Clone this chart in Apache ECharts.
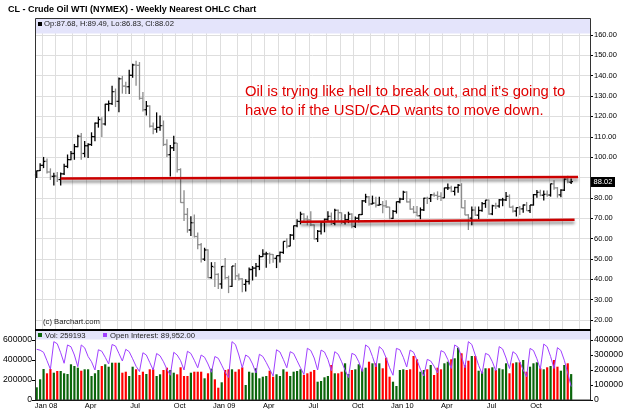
<!DOCTYPE html>
<html>
<head>
<meta charset="utf-8">
<title>CL - Crude Oil WTI (NYMEX) - Weekly Nearest OHLC Chart</title>
<script src="https://cdn.jsdelivr.net/npm/echarts@6/dist/echarts.min.js"></script>
<style>
  html, body { margin: 0; padding: 0; background: #fff; }
  #chart { width: 625px; height: 409px; }
</style>
</head>
<body>
<div id="chart"></div>
<script>
// weekly bars, dated by the Friday that ends the week
const firstWeek = '2007-12-21';
const weekCount = 162; // 157 bars + a little room on the right

// [open, high, low, close]
const ohlc = [
  // 2007
  [91.3, 93.5, 89.7, 93.3], [93.4, 97.0, 93.2, 96.0],
  // 2008
  [96.0, 100.1, 94.6, 97.9], [97.9, 99.3, 92.0, 92.7], [92.7, 94.5, 88.8, 90.6], [90.6, 92.3, 86.1, 90.7],
  [90.7, 92.7, 87.8, 89.0], [89.0, 92.4, 86.1, 91.8], [91.8, 96.7, 91.2, 95.5], [95.5, 101.3, 94.6, 98.8],
  [98.8, 103.0, 98.5, 101.8], [101.8, 106.5, 98.7, 105.2], [105.2, 111.0, 104.8, 110.2], [110.2, 111.8, 98.7, 101.8],
  [101.8, 107.9, 100.0, 105.6], [105.6, 106.8, 99.6, 106.2], [106.2, 112.2, 105.5, 110.1], [110.1, 117.0, 107.8, 116.7],
  [116.7, 119.9, 114.5, 118.5], [118.5, 119.6, 109.9, 116.3], [116.3, 126.2, 115.6, 126.0], [126.0, 127.8, 122.5, 126.3],
  [126.3, 135.1, 125.6, 132.2], [132.2, 133.7, 124.6, 127.4], [127.4, 139.1, 122.0, 138.5], [138.5, 139.9, 131.2, 134.9],
  [134.9, 137.0, 131.0, 134.6], [134.6, 142.9, 131.0, 140.2], [140.2, 145.9, 139.0, 145.3], [145.3, 147.3, 135.1, 145.1],
  [145.1, 146.7, 128.2, 128.9], [128.9, 132.0, 122.4, 123.3], [123.3, 127.6, 120.4, 125.1], [125.1, 125.5, 114.6, 115.2],
  [115.2, 117.0, 111.3, 113.8], [113.8, 122.0, 112.0, 114.6], [114.6, 120.4, 113.0, 115.5], [115.5, 118.0, 105.5, 106.2],
  [106.2, 108.8, 100.1, 101.2], [101.2, 106.0, 90.5, 104.6], [104.6, 110.5, 103.0, 106.9], [106.9, 107.0, 92.5, 93.9],
  [93.9, 94.5, 77.6, 77.7], [77.7, 83.7, 68.6, 71.9], [71.9, 75.0, 62.9, 64.2], [64.2, 71.0, 61.3, 67.8],
  [67.8, 71.8, 60.5, 61.0], [61.0, 63.0, 54.7, 57.0], [57.0, 57.8, 48.3, 49.9], [49.9, 55.5, 49.0, 54.4],
  [54.4, 54.7, 40.5, 40.8], [40.8, 48.4, 40.3, 46.3], [46.0, 48.5, 36.2, 42.4], [42.4, 43.0, 35.2, 37.7],
  // 2009
  [37.7, 46.5, 35.4, 46.3], [46.3, 50.5, 40.0, 40.8], [40.8, 41.8, 33.2, 36.5], [36.5, 46.5, 36.2, 46.5],
  [46.5, 48.0, 39.6, 41.7], [41.7, 42.8, 39.4, 40.2], [40.2, 40.5, 33.6, 37.5], [37.5, 40.0, 34.0, 38.9],
  [38.9, 45.8, 37.4, 44.8], [44.8, 46.5, 39.4, 45.5], [45.5, 48.0, 41.2, 46.3], [46.3, 52.0, 44.5, 51.1],
  [51.1, 54.7, 50.9, 52.4], [52.4, 53.5, 45.7, 52.5], [52.5, 53.1, 47.6, 52.2], [52.2, 52.4, 48.1, 50.3],
  [50.3, 51.7, 45.5, 51.6], [51.6, 53.6, 48.3, 53.2], [53.2, 58.6, 52.5, 58.6], [58.6, 60.1, 55.2, 56.3],
  [56.3, 62.3, 56.2, 61.7], [61.7, 66.4, 59.4, 66.3], [66.3, 69.5, 65.6, 68.4], [68.4, 73.2, 67.0, 72.0],
  [72.0, 72.5, 68.1, 69.6], [69.6, 71.3, 66.5, 69.2], [69.2, 73.4, 66.2, 66.7], [66.7, 66.9, 59.6, 59.9],
  [59.9, 64.2, 58.3, 63.6], [63.6, 68.2, 62.0, 68.1], [68.1, 69.8, 63.1, 69.5], [69.5, 73.4, 68.5, 70.9],
  [70.9, 72.8, 66.7, 67.5], [67.5, 74.7, 66.5, 73.9], [73.9, 74.3, 68.8, 72.7], [72.7, 72.8, 67.1, 68.0],
  [68.0, 72.0, 66.9, 69.3], [69.3, 73.2, 67.6, 72.0], [72.0, 72.4, 65.1, 66.0], [66.0, 70.8, 65.2, 70.0],
  [70.0, 72.0, 68.0, 71.8], [71.8, 78.9, 71.6, 78.5], [78.5, 82.0, 77.5, 80.5], [80.5, 80.9, 76.1, 77.0],
  [77.0, 81.1, 76.8, 77.4], [77.4, 80.5, 75.3, 76.4], [76.4, 80.6, 76.2, 76.7], [76.7, 78.5, 72.4, 76.1],
  [76.1, 78.8, 75.0, 75.5], [75.5, 75.6, 69.5, 69.9], [69.9, 74.0, 69.6, 73.4], [73.4, 78.2, 72.3, 78.1],
  // 2010
  [78.1, 80.0, 77.4, 79.4], [79.4, 83.5, 79.0, 82.8], [82.8, 83.2, 77.7, 78.0], [78.0, 79.6, 74.1, 74.5],
  [74.5, 76.0, 72.4, 72.9], [72.9, 76.0, 71.0, 71.2], [71.2, 75.3, 69.5, 74.1], [74.1, 80.0, 73.6, 79.8],
  [79.8, 80.5, 77.0, 79.7], [79.7, 81.9, 78.0, 81.5], [81.5, 82.6, 80.5, 81.2], [81.2, 83.2, 78.9, 80.7],
  [80.7, 82.8, 78.4, 80.0], [80.0, 85.0, 79.9, 84.9], [84.9, 87.1, 83.8, 84.9], [84.9, 86.0, 82.7, 83.2],
  [83.2, 85.4, 81.2, 85.1], [85.1, 86.8, 82.5, 86.2], [86.2, 87.2, 75.0, 75.1], [75.1, 78.9, 71.5, 71.6],
  [71.6, 72.0, 64.2, 70.0], [70.0, 75.7, 66.5, 74.0], [74.0, 75.7, 71.2, 71.5], [71.5, 75.8, 69.5, 73.8],
  [73.8, 78.0, 73.2, 77.2], [77.2, 79.0, 75.1, 78.9], [78.9, 79.2, 71.7, 72.1], [72.1, 76.6, 71.5, 76.1],
  [76.1, 77.6, 74.5, 76.0], [76.0, 79.5, 75.2, 79.0], [79.0, 80.0, 75.9, 79.0], [79.0, 82.9, 78.5, 80.7],
  [80.7, 81.7, 75.2, 75.4], [75.4, 76.3, 72.8, 73.5], [73.5, 75.4, 70.8, 75.2], [75.2, 76.0, 71.6, 74.6],
  [74.6, 76.7, 72.7, 76.5], [76.5, 78.0, 73.6, 73.7], [73.7, 76.5, 72.6, 76.5], [76.5, 81.9, 76.2, 81.6],
  [81.6, 83.9, 80.1, 82.7], [82.7, 84.0, 80.8, 81.3], [81.3, 83.6, 78.7, 81.7], [81.7, 83.6, 80.6, 81.4],
  [81.4, 87.0, 80.6, 86.9], [86.9, 88.6, 84.0, 84.9], [84.9, 85.3, 80.1, 81.5], [81.5, 84.2, 80.3, 83.8],
  [83.8, 89.5, 83.4, 89.2], [89.2, 90.8, 87.2, 87.8], [87.68, 89.49, 86.83, 88.02]
];

const volume = [
  127000, 207000, 310000, 267000, 310000, 273000, 290000, 290000, 267000, 260000,
  357000, 340000, 323000, 293000, 307000, 307000, 240000, 267000, 300000, 340000,
  357000, 333000, 373000, 373000, 373000, 273000, 283000, 240000, 333000, 307000,
  250000, 283000, 260000, 307000, 307000, 240000, 257000, 300000, 323000, 300000,
  273000, 257000, 327000, 240000, 240000, 273000, 283000, 283000, 283000, 217000,
  267000, 313000, 207000, 123000, 177000, 300000, 307000, 307000, 283000, 307000,
  327000, 150000, 283000, 273000, 317000, 217000, 233000, 240000, 293000, 233000,
  257000, 240000, 307000, 283000, 240000, 283000, 290000, 307000,
  250000, 267000, 283000, 300000, 183000, 190000, 227000, 240000, 350000, 267000,
  267000, 283000, 367000, 260000, 300000, 307000, 357000, 307000, 323000, 383000,
  367000, 367000, 367000, 317000, 423000, 233000, 183000, 140000, 300000, 307000,
  300000, 307000, 440000, 407000, 283000, 300000, 307000, 350000, 250000, 323000,
  307000, 367000, 383000, 407000, 417000, 523000, 467000, 350000, 393000, 440000,
  440000, 293000, 283000, 317000, 317000, 327000, 300000, 317000, 307000, 367000,
  267000, 367000, 377000, 377000, 400000, 283000, 333000, 367000, 377000, 317000,
  307000, 327000, 340000, 400000, 333000, 293000, 350000, 367000, 259193
];

const openInterest = [
  338000, 332000, 318000, 262000, 205000, 389000, 375000, 315000, 245000, 367000,
  355000, 300000, 222000, 367000, 348000, 290000, 255000, 200000, 335000, 325000,
  285000, 240000, 370000, 360000, 310000, 260000, 338000, 322000, 275000, 225000,
  190000, 315000, 300000, 250000, 200000, 310000, 295000, 255000, 205000, 165000,
  318000, 300000, 262000, 200000, 325000, 310000, 265000, 215000, 300000, 285000,
  240000, 185000, 290000, 278000, 232000, 185000, 150000, 389000, 370000, 300000,
  215000, 300000, 285000, 240000, 180000, 305000, 290000, 250000, 205000, 160000,
  335000, 320000, 270000, 215000, 322000, 310000, 262000, 215000, 170000, 345000,
  330000, 280000, 200000, 333000, 320000, 270000, 195000, 322000, 305000, 255000,
  200000, 150000, 311000, 300000, 255000, 190000, 367000, 350000, 290000, 220000,
  356000, 335000, 280000, 215000, 165000, 344000, 335000, 285000, 220000, 333000,
  318000, 265000, 205000, 160000, 271000, 260000, 225000, 180000, 329000, 318000,
  270000, 210000, 367000, 352000, 290000, 215000, 389000, 370000, 300000, 230000,
  175000, 311000, 300000, 255000, 195000, 356000, 340000, 280000, 210000, 322000,
  305000, 255000, 200000, 155000, 344000, 330000, 275000, 205000, 373000, 355000,
  290000, 210000, 349000, 330000, 265000, 180000, 89952
];

const tickWeeks = ['2008-01-04', '2008-04-04', '2008-07-04', '2008-10-03', '2009-01-02', '2009-04-03',
  '2009-07-03', '2009-10-02', '2010-01-01', '2010-04-02', '2010-07-02', '2010-10-01'];
const tickLabels = ['Jan 08', 'Apr', 'Jul', 'Oct', 'Jan 09', 'Apr', 'Jul', 'Oct', 'Jan 10', 'Apr', 'Jul', 'Oct'];

// hand drawn trend lines: [week index, price]
const upperLine = [[7, 89.5], [158, 90.2]];
const lowerLine = [[77, 68.3], [157, 69.2]];

const weeks = [];
const d0 = new Date(firstWeek + 'T12:00:00Z');
for (let i = 0; i < weekCount; i++) {
  weeks.push(new Date(d0.getTime() + i * 7 * 86400000).toISOString().slice(0, 10));
}
const isMonthStart = i => i === 0 || weeks[i].slice(0, 7) !== weeks[i - 1].slice(0, 7);

const last = ohlc[ohlc.length - 1];
const FONT = '"Liberation Sans", Arial, sans-serif';
const band = '#e4e4fb';
const gridColor = '#dedede';

const chart = echarts.init(document.getElementById('chart'));

const volData = volume.map((v, i) => {
  const prev = i > 0 ? ohlc[i - 1][3] : ohlc[i][0];
  return { value: v, itemStyle: { color: ohlc[i][3] >= prev ? '#0b660b' : '#ff0000' } };
});

const trendStyle = {
  color: '#cc0000', width: 2.5, type: 'solid',
  shadowColor: 'rgba(0,0,0,0.45)', shadowBlur: 3, shadowOffsetY: 3
};

function renderOhlc(params, api) {
  const x = api.value(0);
  const o = api.coord([x, api.value(1)]);
  const h = api.coord([x, api.value(2)]);
  const l = api.coord([x, api.value(3)]);
  const c = api.coord([x, api.value(4)]);
  const style = { stroke: api.value(4) >= api.value(1) ? '#000' : '#8c8c8c', lineWidth: 1.3 };
  return {
    type: 'group',
    children: [
      { type: 'line', shape: { x1: h[0], y1: h[1], x2: l[0], y2: l[1] }, style },
      { type: 'line', shape: { x1: o[0] - 1.8, y1: o[1], x2: o[0], y2: o[1] }, style },
      { type: 'line', shape: { x1: c[0], y1: c[1], x2: c[0] + 1.8, y2: c[1] }, style }
    ]
  };
}

const option = {
  animation: false,
  backgroundColor: '#fff',
  textStyle: { fontFamily: FONT },
  grid: [
    { left: 35, right: 35, top: 18, height: 311, outerBoundsMode: 'none' },
    { left: 35, right: 35, top: 35, height: 285, outerBoundsMode: 'none' },
    { left: 35, right: 35, top: 340, height: 60, outerBoundsMode: 'none' }
  ],
  xAxis: [
    {
      gridIndex: 0, type: 'category', data: weeks,
      axisLine: { show: false }, axisTick: { show: false }, axisLabel: { show: false },
      splitLine: { show: true, interval: i => isMonthStart(i), lineStyle: { color: gridColor, width: 1 } }
    },
    { gridIndex: 1, type: 'category', data: weeks, show: false },
    {
      gridIndex: 2, type: 'category', data: weeks,
      axisLine: { lineStyle: { color: '#000', width: 1 } },
      axisTick: { show: false },
      axisLabel: {
        interval: (i, v) => tickWeeks.includes(v),
        formatter: v => tickLabels[tickWeeks.indexOf(v)] || '',
        fontSize: 7.5, color: '#000', margin: 2, padding: [0, 0, 0, 5]
      },
      splitLine: { show: false }
    }
  ],
  yAxis: [
    { gridIndex: 0, show: false, min: 0, max: 1 },
    {
      gridIndex: 1, position: 'right', min: 20, max: 160, interval: 10,
      axisLine: { show: false },
      axisTick: { show: true, length: 3, lineStyle: { color: '#000' } },
      axisLabel: {
        formatter: v => (Math.abs(v - last[3]) < 4 ? '' : v.toFixed(2)),
        fontSize: 7.5, color: '#000', margin: 4
      },
      splitLine: { lineStyle: { color: gridColor, width: 1 } }
    },
    {
      gridIndex: 2, position: 'left', min: 0, max: 600000, interval: 200000,
      axisLine: { show: false },
      axisTick: { show: true, length: 3, lineStyle: { color: '#000' } },
      axisLabel: { formatter: v => String(v), fontSize: 8.7, color: '#000', margin: 3 },
      splitLine: { show: false }
    },
    {
      gridIndex: 2, position: 'right', min: 0, max: 400000, interval: 100000,
      axisLine: { show: false },
      axisTick: { show: true, length: 3, lineStyle: { color: '#000' } },
      axisLabel: { formatter: v => String(v), fontSize: 8.7, color: '#000', margin: 4 },
      splitLine: { show: false }
    }
  ],
  series: [
    {
      name: 'CL', type: 'custom', xAxisIndex: 1, yAxisIndex: 1,
      renderItem: renderOhlc,
      encode: { x: 0, y: [1, 2, 3, 4] },
      data: ohlc.map((r, i) => [i, r[0], r[1], r[2], r[3]]),
      z: 3,
      markLine: {
        silent: true, symbol: ['none', 'none'], label: { show: false },
        emphasis: { disabled: true },
        lineStyle: trendStyle,
        data: [
          [{ coord: upperLine[0] }, { coord: upperLine[1] }],
          [{ coord: lowerLine[0] }, { coord: lowerLine[1] }]
        ]
      }
    },
    {
      name: 'Vol', type: 'bar', xAxisIndex: 2, yAxisIndex: 2,
      barWidth: 2.2, data: volData
    },
    {
      name: 'Open Interest', type: 'line', xAxisIndex: 2, yAxisIndex: 3,
      data: openInterest, symbol: 'none', z: 4,
      lineStyle: { color: '#a040ff', width: 1 }
    }
  ],
  graphic: {
    elements: [
      { type: 'text', left: 8, top: 5, z: 20,
        style: { text: 'CL - Crude Oil WTI (NYMEX) - Weekly Nearest OHLC Chart', font: 'bold 9px ' + FONT, fill: '#000' } },
      // price panel
      { type: 'rect', shape: { x: 35.5, y: 18.5, width: 555, height: 15 }, style: { fill: band }, z: 10 },
      { type: 'rect', shape: { x: 35.5, y: 18.5, width: 555, height: 311 }, style: { fill: 'none', stroke: '#333', lineWidth: 1 }, z: 11 },
      { type: 'rect', shape: { x: 38, y: 22, width: 4, height: 4 }, style: { fill: '#000' }, z: 12 },
      { type: 'text', left: 44, top: 20, z: 12,
        style: { text: 'Op:' + last[0].toFixed(2) + ', H:' + last[1].toFixed(2) + ', Lo:' + last[2].toFixed(2) + ', Cl:' + last[3].toFixed(2),
          font: '7.7px ' + FONT, fill: '#222' } },
      { type: 'text', left: 43, top: 318, z: 12, style: { text: '(c) Barchart.com', font: '7.7px ' + FONT, fill: '#222' } },
      // volume panel
      { type: 'rect', shape: { x: 35.5, y: 330.5, width: 555, height: 9 }, style: { fill: band }, z: 10 },
      { type: 'rect', shape: { x: 35.5, y: 330, width: 555, height: 70 }, style: { fill: 'none', stroke: '#333', lineWidth: 1 }, z: 11 },
      { type: 'line', shape: { x1: 35, y1: 330, x2: 591, y2: 330 }, style: { stroke: '#000', lineWidth: 2 }, z: 11 },
      { type: 'rect', shape: { x: 38, y: 333, width: 4, height: 4 }, style: { fill: '#0b660b' }, z: 12 },
      { type: 'text', left: 45, top: 331.5, z: 12,
        style: { text: 'Vol: ' + volume[volume.length - 1], font: '7.7px ' + FONT, fill: '#222' } },
      { type: 'rect', shape: { x: 103, y: 333, width: 4, height: 4 }, style: { fill: '#a040ff' }, z: 12 },
      { type: 'text', left: 110, top: 331.5, z: 12,
        style: { text: 'Open Interest: ' + openInterest[openInterest.length - 1].toLocaleString('en-US', { minimumFractionDigits: 2 }),
          font: '7.7px ' + FONT, fill: '#222' } },
      // annotation
      { type: 'text', left: 245, top: 82, z: 12,
        style: { text: "Oil is trying like hell to break out, and it's going to\nhave to if the USD/CAD wants to move down.",
          font: '14.8px ' + FONT, fill: '#e00000', lineHeight: 19.5 } }
    ]
  }
};

chart.setOption(option);

// last close marker on the price axis
const yLast = chart.convertToPixel({ yAxisIndex: 1 }, last[3]);
chart.setOption({
  graphic: {
    elements: [
      { id: 'lastBox', type: 'rect', shape: { x: 591, y: Math.round(yLast) - 5, width: 24, height: 10 }, style: { fill: '#000' }, z: 20 },
      { id: 'lastText', type: 'text', x: 603, y: Math.round(yLast), z: 21,
        style: { text: last[3].toFixed(2), font: '7.5px ' + FONT, fill: '#fff', align: 'center', verticalAlign: 'middle',
          textAlign: 'center', textVerticalAlign: 'middle' } }
    ]
  }
});
</script>
</body>
</html>
